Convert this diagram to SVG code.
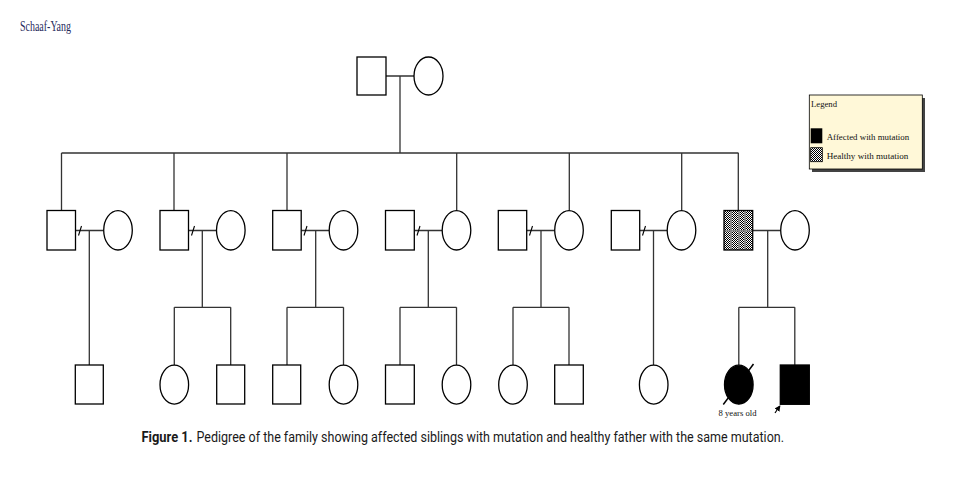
<svg xmlns="http://www.w3.org/2000/svg" width="972" height="477" viewBox="0 0 972 477">
<style>
.m{fill:#fff;stroke:#000;stroke-width:1.3}
.f{fill:#fff;stroke:#000;stroke-width:1.3}
.aff{fill:#000;stroke:#000;stroke-width:1.3}
.ln{fill:none;stroke:#333;stroke-width:1.3}
.sl{fill:none;stroke:#000;stroke-width:1.1}
.lt{font-family:"Liberation Serif",serif;fill:#111}
.cap{font-family:Roboto,"Liberation Sans",sans-serif;font-size:15px;fill:#1a1a1a}
</style>
<defs>
<pattern id="chk2" width="2" height="2" patternUnits="userSpaceOnUse">
<rect width="2" height="2" fill="#fff"/>
<rect x="0" y="0" width="1" height="1" fill="#000"/>
<rect x="1" y="1" width="1" height="1" fill="#000"/>
</pattern>
<marker id="arr" markerWidth="6" markerHeight="6" refX="5" refY="3" orient="auto" markerUnits="userSpaceOnUse">
<path d="M0,0 L6,3 L0,6 Z" fill="#000"/>
</marker>
</defs>
<rect width="972" height="477" fill="#fff"/>
<text x="20" y="31" font-family="Liberation Serif,serif" font-size="15" fill="#1f2a5c" textLength="51" lengthAdjust="spacingAndGlyphs">Schaaf-Yang</text>

<g id="connectors">
<path class="ln" d="M386,76H414 M400,76V153 M61.5,153H738.5"/>
<path class="ln" d="M61.5,153V210.5 M174,153V210.5 M287,153V210.5 M456.7,153V210.5 M569.3,153V210.5 M681.7,153V210.5 M738.3,153V210.5"/>
<path class="ln" d="M75.5,230.5H103.7 M188.5,230.5H216.5 M301.2,230.5H329.2 M414.3,230.5H442.2 M526.7,230.5H554.7 M639.7,230.5H667.2 M752.7,230.5H780.7"/>
<path class="sl" d="M78.5,235.5L81.5,226 M191.5,235.5L194.5,226 M304,235.5L307,226 M417,235.5L420,226 M529.5,235.5L532.5,226 M642.5,235.5L645.5,226"/>
<path class="ln" d="M89.3,230.5V365"/>
<path class="ln" d="M202.3,230.5V307.3 M174.3,307.3H230.7 M174.3,307.3V365 M230.7,307.3V365"/>
<path class="ln" d="M315.7,230.5V307.3 M287,307.3H343.5 M287,307.3V365 M343.5,307.3V365"/>
<path class="ln" d="M428.3,230.5V307.3 M400,307.3H456.5 M400,307.3V365 M456.5,307.3V365"/>
<path class="ln" d="M541,230.5V307.3 M513,307.3H569 M513,307.3V365 M569,307.3V365"/>
<path class="ln" d="M653.5,230.5V365"/>
<path class="ln" d="M767.7,230.5V307.3 M738.8,307.3H794.8 M738.8,307.3V365 M794.8,307.3V365"/>
</g>

<g id="gen1-father"><rect class="m" x="357" y="57" width="29" height="38"/></g>
<g id="gen1-mother"><ellipse class="f" cx="428.5" cy="76" rx="14.5" ry="19"/></g>

<g id="c1-husband"><rect class="m" x="47" y="210.5" width="28.5" height="39.5"/></g>
<g id="c1-wife"><ellipse class="f" cx="118" cy="230.3" rx="14.3" ry="19.7"/></g>
<g id="c2-husband"><rect class="m" x="160" y="210.5" width="28.5" height="39.5"/></g>
<g id="c2-wife"><ellipse class="f" cx="230.8" cy="230.3" rx="14.3" ry="19.7"/></g>
<g id="c3-husband"><rect class="m" x="272.7" y="210.5" width="28.5" height="39.5"/></g>
<g id="c3-wife"><ellipse class="f" cx="343.5" cy="230.3" rx="14.3" ry="19.7"/></g>
<g id="c4-husband"><rect class="m" x="385.5" y="210.5" width="28.8" height="39.5"/></g>
<g id="c4-wife"><ellipse class="f" cx="456.5" cy="230.3" rx="14.3" ry="19.7"/></g>
<g id="c5-husband"><rect class="m" x="498.3" y="210.5" width="28.4" height="39.5"/></g>
<g id="c5-wife"><ellipse class="f" cx="569" cy="230.3" rx="14.3" ry="19.7"/></g>
<g id="c6-husband"><rect class="m" x="611.3" y="210.5" width="28.4" height="39.5"/></g>
<g id="c6-wife"><ellipse class="f" cx="681.5" cy="230.3" rx="14.3" ry="19.7"/></g>
<g id="c7-father-carrier"><rect x="724" y="210.5" width="28.7" height="39.5" fill="url(#chk2)"/><rect x="730" y="210.5" width="2" height="39.5" fill="#888"/><rect x="738" y="210.5" width="2" height="39.5" fill="#888"/><rect x="744" y="210.5" width="2" height="39.5" fill="#888"/><rect x="724" y="230" width="28.7" height="1.5" fill="#888"/><rect x="724" y="210.5" width="28.7" height="39.5" fill="none" stroke="#000" stroke-width="1.3"/></g>
<g id="c7-mother"><ellipse class="f" cx="795" cy="230.3" rx="14.3" ry="19.7"/></g>

<g id="g3-1"><rect class="m" x="75.3" y="365" width="28" height="39"/></g>
<g id="g3-2"><ellipse class="f" cx="174.3" cy="384.7" rx="14.3" ry="19.5"/></g>
<g id="g3-3"><rect class="m" x="216.7" y="365" width="28" height="39"/></g>
<g id="g3-4"><rect class="m" x="272.7" y="365" width="28" height="39"/></g>
<g id="g3-5"><ellipse class="f" cx="343.5" cy="384.7" rx="14.3" ry="19.5"/></g>
<g id="g3-6"><rect class="m" x="385.5" y="365" width="28.8" height="39"/></g>
<g id="g3-7"><ellipse class="f" cx="456.5" cy="384.7" rx="14.3" ry="19.5"/></g>
<g id="g3-8"><ellipse class="f" cx="513" cy="384.7" rx="14.3" ry="19.5"/></g>
<g id="g3-9"><rect class="m" x="554.7" y="365" width="28.6" height="39"/></g>
<g id="g3-10"><ellipse class="f" cx="653.7" cy="384.7" rx="14.3" ry="19.5"/></g>
<g id="g3-11-affected-deceased"><ellipse class="aff" cx="738.8" cy="384.7" rx="14.3" ry="19.5"/><line x1="723.3" y1="404.5" x2="753.5" y2="364" stroke="#000" stroke-width="1.5"/><text class="lt" x="737.5" y="416" font-size="8.5" text-anchor="middle" textLength="38" lengthAdjust="spacingAndGlyphs">8 years old</text></g>
<g id="g3-12-affected-proband"><rect class="aff" x="780.3" y="365" width="29" height="39.3"/><line x1="775" y1="413" x2="779.8" y2="406" stroke="#000" stroke-width="1.2" marker-end="url(#arr)"/></g>

<g id="legend">
<rect x="812" y="98" width="113" height="74" fill="#222" opacity="0.85"/>
<rect x="809.3" y="95" width="113" height="74" fill="#fff8d8" stroke="#000" stroke-width="0.8"/>
<text class="lt" x="811" y="106.5" font-size="9" textLength="26" lengthAdjust="spacingAndGlyphs">Legend</text>
<rect x="810.7" y="128.3" width="11.6" height="15" fill="#000"/>
<text class="lt" x="826.7" y="140" font-size="9" textLength="82.5" lengthAdjust="spacingAndGlyphs">Affected with mutation</text>
<rect x="810.7" y="147.7" width="11.6" height="14" fill="url(#chk2)" stroke="#000" stroke-width="0.8"/>
<text class="lt" x="826.7" y="158.7" font-size="9" textLength="81.6" lengthAdjust="spacingAndGlyphs">Healthy with mutation</text>
</g>

<text class="cap" x="141.5" y="442" font-weight="bold" textLength="51" lengthAdjust="spacingAndGlyphs">Figure 1.</text>
<text class="cap" x="196.5" y="442" textLength="587.5" lengthAdjust="spacingAndGlyphs">Pedigree of the family showing affected siblings with mutation and healthy father with the same mutation.</text>
</svg>
